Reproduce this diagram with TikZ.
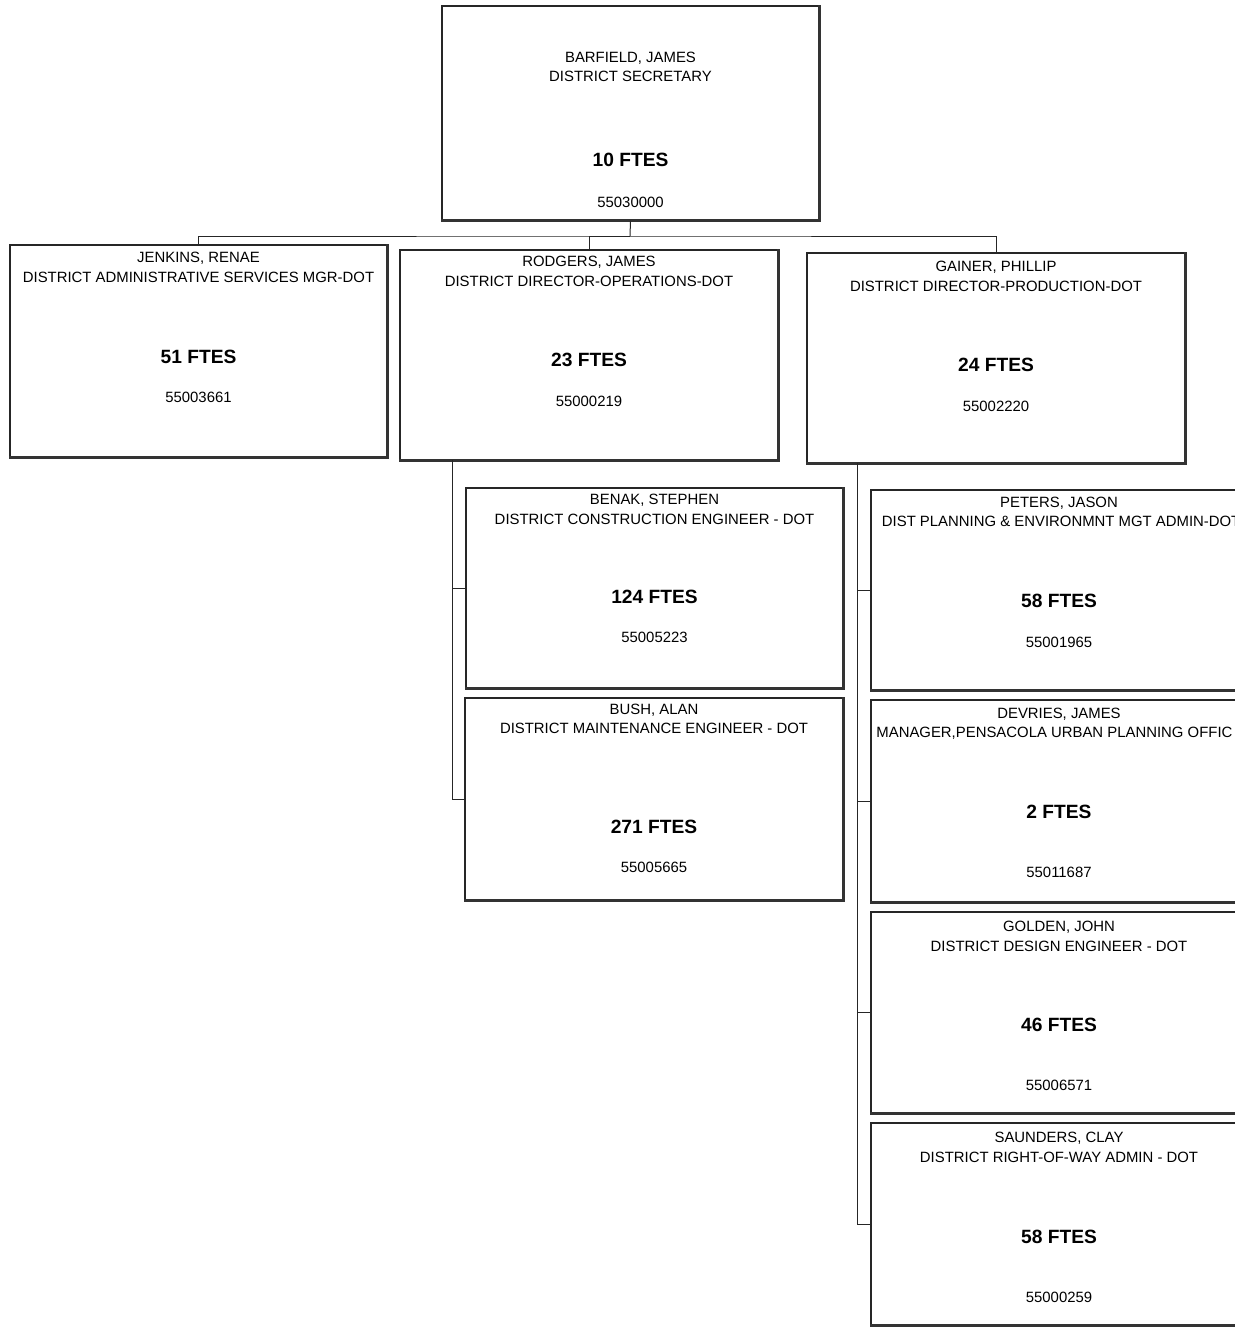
\documentclass[tikz,border=0pt]{standalone}
\usepackage{fontspec}
\setmainfont{Liberation Sans}
\usetikzlibrary{fit}
\tikzset{
  boxst/.style={draw=black!85, line width=0.55pt, inner sep=0pt, fill=white},
  shadowst/.style={draw=black!80, line width=1.3pt},
  wire/.style={draw=black!85, line width=0.5pt},
  nm/.style={font=\fontsize{7.45}{8}\selectfont, inner sep=0pt, anchor=base},
  ft/.style={font=\fontsize{9.6}{10}\selectfont\bfseries, inner sep=0pt, anchor=base}
}
\newcommand{\orgbox}[5]{%
  \path (#2,#3) coordinate (#1-nw) (#4,#5) coordinate (#1-se);
  \node[boxst, fit=(#1-nw)(#1-se)] (#1) {};
  \draw[shadowst] (#1.south west) -- (#1.south east) -- (#1.north east);
}
\newcommand{\orgtext}[9]{%
  \node[nm] (#1-n) at ([yshift=-#6*0.5pt]#1.north) {#2};
  \node[nm] (#1-t) at ([yshift=-#7*0.5pt]#1.north) {#3};
  \node[ft] (#1-f) at ([yshift=-#8*0.5pt]#1.north) {#4};
  \node[nm] (#1-c) at ([yshift=-#9*0.5pt]#1.north) {#5};
}
\begin{document}
\begin{tikzpicture}[x=0.5pt, y=-0.5pt]
\path[use as bounding box, clip] (0,0) rectangle (1235,1327);
\fill[white] (0,0) rectangle (1235,1327);

% connector anchors
\coordinate (bus) at (630,236);
\coordinate (spineR) at (452,460);
\coordinate (spineG) at (857,463);

\orgbox{top}{442}{6}{819}{220}
\orgbox{jenkins}{10}{245}{387}{457}
\orgbox{rodgers}{400}{250}{778}{460}
\orgbox{gainer}{807}{253}{1185}{463}
\orgbox{benak}{466}{488}{843}{688}
\orgbox{bush}{465}{698}{843}{900}
\orgbox{peters}{871}{490}{1247}{690}
\orgbox{devries}{871}{700}{1247}{902}
\orgbox{golden}{871}{912}{1247}{1113}
\orgbox{saunders}{871}{1123}{1247}{1325}

\draw[wire] (top.south) -- (bus);
\draw[wire] (jenkins.north) |- (bus) -| (gainer.north);
\draw[wire] (bus) -| (rodgers.north);
\draw[wire] (spineR) |- (benak.west);
\draw[wire] (spineR) |- (bush.west);
\draw[wire] (spineG) |- (peters.west);
\draw[wire] (spineG) |- (devries.west);
\draw[wire] (spineG) |- (golden.west);
\draw[wire] (spineG) |- (saunders.west);

\orgtext{top}{BARFIELD, JAMES}{DISTRICT SECRETARY}{10 FTES}{55030000}{57}{76.5}{161.5}{202}
\orgtext{jenkins}{JENKINS, RENAE}{DISTRICT ADMINISTRATIVE SERVICES MGR-DOT}{51 FTES}{55003661}{18.5}{37.7}{119}{158}
\orgtext{rodgers}{RODGERS, JAMES}{DISTRICT DIRECTOR-OPERATIONS-DOT}{23 FTES}{55000219}{17}{37}{117}{157}
\orgtext{gainer}{GAINER, PHILLIP}{DISTRICT DIRECTOR-PRODUCTION-DOT}{24 FTES}{55002220}{18.7}{38.7}{118.7}{158.7}
\orgtext{benak}{BENAK, STEPHEN}{DISTRICT CONSTRUCTION ENGINEER - DOT}{124 FTES}{55005223}{17}{37}{116}{155}
\orgtext{bush}{BUSH, ALAN}{DISTRICT MAINTENANCE ENGINEER - DOT}{271 FTES}{55005665}{17}{36}{136}{175}

% boxes cut by the right page edge
\node[nm] (peters-n) at ([yshift=-18*0.5pt]peters.north) {PETERS, JASON};
\node[nm, anchor=base west] (peters-t) at ([yshift=-37*0.5pt]peters.north west -| 881.5,0) {DIST PLANNING \& ENVIRONMNT MGT ADMIN-DOT};
\node[ft] (peters-f) at ([yshift=-118*0.5pt]peters.north) {58 FTES};
\node[nm] (peters-c) at ([yshift=-158*0.5pt]peters.north) {55001965};

\node[nm] (devries-n) at ([yshift=-19*0.5pt]devries.north) {DEVRIES, JAMES};
\node[nm, anchor=base west] (devries-t) at ([yshift=-38*0.5pt]devries.north west -| 876,0) {MANAGER,PENSACOLA URBAN PLANNING OFFIC};
\node[ft] (devries-f) at ([yshift=-119*0.5pt]devries.north) {2 FTES};
\node[nm] (devries-c) at ([yshift=-178*0.5pt]devries.north) {55011687};

\orgtext{golden}{GOLDEN, JOHN}{DISTRICT DESIGN ENGINEER - DOT}{46 FTES}{55006571}{20}{40}{120}{179}
\orgtext{saunders}{SAUNDERS, CLAY}{DISTRICT RIGHT-OF-WAY ADMIN - DOT}{58 FTES}{55000259}{20}{40}{121}{180}
\end{tikzpicture}
\end{document}
